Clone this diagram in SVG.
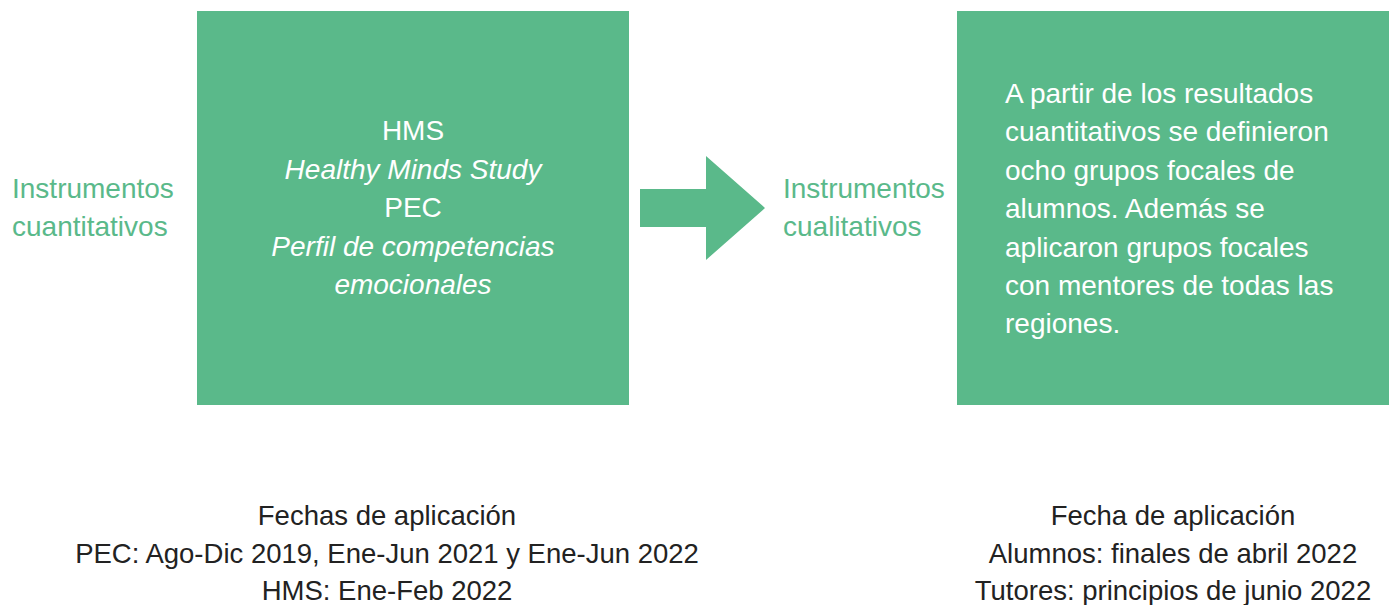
<svg xmlns="http://www.w3.org/2000/svg" width="1389" height="605" viewBox="0 0 1389 605">
<style>
.box{fill:#5ab98a}
.t{font-family:"Liberation Sans",Arial,sans-serif;font-size:28px}
.b{font-size:27.5px}
.w{fill:#ffffff}
.g{fill:#5ab98a}
.d{fill:#222222}
.c{text-anchor:middle}
.i{font-style:italic}
</style>
<rect width="1389" height="605" fill="#ffffff"/>
<g id="label-cuantitativos">
<text class="t g" x="12" y="198">Instrumentos</text>
<text class="t g" x="12" y="236">cuantitativos</text>
</g>
<g id="node-cuantitativos">
<rect class="box" x="197" y="11" width="432" height="394"/>
<text class="t w c" x="413" y="140">HMS</text>
<text class="t w c i" x="413" y="179">Healthy Minds Study</text>
<text class="t w c" x="413" y="217">PEC</text>
<text class="t w c i" x="413" y="256">Perfil de competencias</text>
<text class="t w c i" x="413" y="294">emocionales</text>
</g>
<g id="connectors">
<polygon class="box" points="640,189 706,189 706,156 765,208 706,260 706,227 640,227"/>
</g>
<g id="label-cualitativos">
<text class="t g" x="783" y="198">Instrumentos</text>
<text class="t g" x="783" y="236">cualitativos</text>
</g>
<g id="node-cualitativos">
<rect class="box" x="957" y="11" width="432" height="394"/>
<text class="t w" x="1005" y="103">A partir de los resultados</text>
<text class="t w" x="1005" y="141">cuantitativos se definieron</text>
<text class="t w" x="1005" y="180">ocho grupos focales de</text>
<text class="t w" x="1005" y="218">alumnos. Además se</text>
<text class="t w" x="1005" y="257">aplicaron grupos focales</text>
<text class="t w" x="1005" y="295">con mentores de todas las</text>
<text class="t w" x="1005" y="333">regiones.</text>
</g>
<g id="fechas-cuantitativos">
<text class="t b d c" x="387" y="525">Fechas de aplicación</text>
<text class="t b d c" x="387" y="563">PEC: Ago-Dic 2019, Ene-Jun 2021 y Ene-Jun 2022</text>
<text class="t b d c" x="387" y="600">HMS: Ene-Feb 2022</text>
</g>
<g id="fechas-cualitativos">
<text class="t b d c" x="1173" y="525">Fecha de aplicación</text>
<text class="t b d c" x="1173" y="563">Alumnos: finales de abril 2022</text>
<text class="t b d c" x="1173" y="600">Tutores: principios de junio 2022</text>
</g>
</svg>
